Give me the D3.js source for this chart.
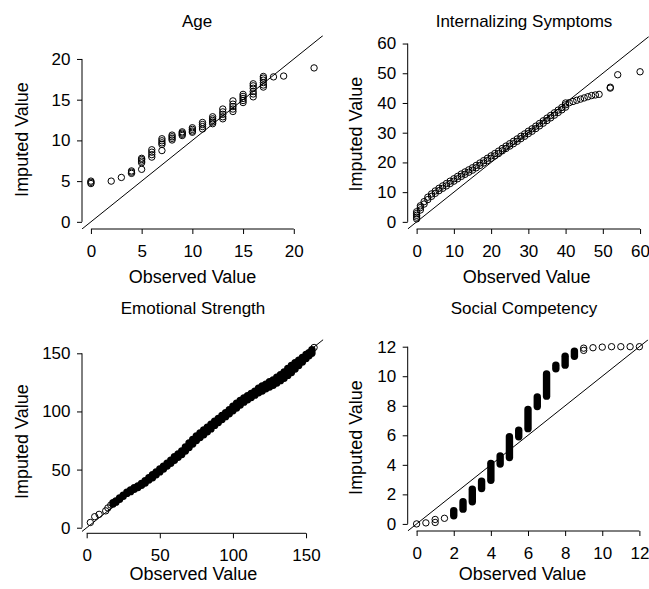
<!DOCTYPE html>
<html>
<head>
  <meta charset="UTF-8">
  <style>
    body { margin: 0; background: #fff; }
    svg { display: block; font-family: "Liberation Sans", Arial, Helvetica, sans-serif; }
  </style>
</head>
<body>
<svg></svg>
<script src="https://d3js.org/d3.v7.min.js"></script>
<script>

let width = 649, height = 589;

// Age: observed value -> imputed values stacked on it
let ageObs = [0, 2, 3, 4, 5, 6, 7, 8, 9, 10, 11, 12, 13, 14, 15, 16, 17, 18, 19, 22];
let ageImp = [
  [4.7, 4.85, 5.0], [5.0], [5.45], [5.95, 6.1, 6.25],
  [6.45, 7.25, 7.45, 7.65, 7.8], [7.95, 8.25, 8.55, 8.85],
  [8.75, 9.5, 9.7, 9.95, 10.2], [10.05, 10.25, 10.45, 10.65],
  [10.6, 10.75, 10.9, 11.05], [11.0, 11.15, 11.35, 11.55],
  [11.4, 11.7, 11.95, 12.2], [12.05, 12.25, 12.45, 12.65, 12.9],
  [12.65, 12.9, 13.2, 13.5, 13.85], [13.55, 13.85, 14.15, 14.45, 14.85],
  [14.65, 14.9, 15.15, 15.4, 15.65], [15.35, 15.7, 16.0, 16.4, 16.7, 16.95],
  [16.55, 16.8, 17.1, 17.4, 17.65, 17.85], [17.8], [17.9], [18.9]
];

// Internalizing Symptoms
let intObs = [0, 1, 2, 3, 4, 5, 6, 7, 8, 9, 10, 11, 12, 13, 14, 15, 16, 17, 18, 19,
  20, 21, 22, 23, 24, 25, 26, 27, 28, 29, 30, 31, 32, 33, 34, 35, 36, 37, 38, 39,
  40, 41, 42, 43, 44, 45, 46, 47, 48, 49, 52, 54, 60];
let intImp = [
  [1.0, 1.6, 2.2, 2.8, 3.4], [4.0, 4.8, 5.4], [6.0, 6.8], [7.5, 8.3], [8.6, 9.4],
  [9.6, 10.4], [10.5, 11.3], [11.3, 12.1], [12.1, 12.9], [12.9, 13.7], [13.7, 14.5],
  [14.5, 15.3], [15.3, 16.1], [16.0, 16.8], [16.7, 17.5], [17.4, 18.2], [18.2, 19.0],
  [19.0, 19.8], [19.8, 20.6], [20.6, 21.4], [21.4, 22.2], [22.2, 23.0], [23.0, 23.8],
  [23.9, 24.7], [24.7, 25.5], [25.5, 26.3], [26.3, 27.1], [27.1, 27.9], [28.0, 28.8],
  [28.8, 29.6], [29.7, 30.5], [30.5, 31.3], [31.4, 32.2], [32.3, 33.1], [33.2, 34.0],
  [34.1, 34.9], [35.0, 35.8], [35.9, 36.7], [36.8, 37.6], [37.7, 38.5],
  [38.6, 39.4, 40.0], [40.1], [40.5], [40.9], [41.3], [41.7], [42.1],
  [42.5], [42.7], [42.9], [45.0, 45.3], [49.5], [50.5]
];

// Emotional Strength: lowest and highest imputed value at each observed value
let emoObs = [2.5, 5.5, 8.5, 13, 14.5, 16.5, 18, 20, 22.5, 25, 27.5, 30, 32.5, 35, 37.5,
  40, 42.5, 45, 47.5, 50, 52.5, 55, 57.5, 60, 62.5, 65, 67.5, 70, 72.5, 75, 77.5, 80,
  82.5, 85, 87.5, 90, 92.5, 95, 97.5, 100, 102.5, 105, 107.5, 110, 112.5, 115, 117.5,
  120, 122.5, 125, 127.5, 130, 132.5, 135, 137.5, 140, 142.5, 145, 147.5, 150, 152, 154, 155.5];
let emoLo = [4.5, 9.5, 11.5, 14.5, 17, 19.5, 20.5, 22, 24.5, 27, 29.5, 31, 33, 34.5, 36.5,
  38.5, 41, 43, 45.5, 48, 50.5, 53, 55.5, 58, 60.5, 63, 66, 69, 72, 75, 77.5, 80,
  82.5, 85, 88, 90.5, 93, 95.5, 98, 100.5, 103, 105.5, 108, 110, 112, 114, 116,
  117.5, 119.5, 121, 122.5, 124.5, 126.5, 128.5, 131, 133.5, 136.5, 139.5, 142.5, 145.5, 148, 150, 155];
let emoHi = [4.5, 9.5, 11.5, 14.5, 17, 19.5, 21.5, 23, 25.5, 28, 30.5, 32.5, 34.5, 36, 38,
  40.5, 43, 45.5, 48, 50.5, 53, 55.5, 58, 61, 63.5, 66, 69.5, 73, 76, 79, 81.5, 84,
  86.5, 89, 91.5, 94, 96.5, 99, 101.5, 104.5, 107, 109.5, 111.5, 113.5, 115.5, 117.5, 120,
  122, 123.5, 125.5, 127, 129.5, 131.5, 134, 137, 139.5, 142, 144, 146.5, 149, 150.5, 153, 155];

// Social Competency
let socObs = [0, 0.5, 1, 1.5, 2, 2.5, 3, 3.5, 4, 4.5, 5, 5.5, 6, 6.5, 7, 7.5, 8, 8.5, 9,
  9.5, 10, 10.5, 11, 11.5, 12];
let socLo = [0, 0.07, 0.1, 0.38, 0.55, 1.0, 1.5, 2.4, 2.95, 4.05, 4.5, 5.9, 6.45, 7.95,
  8.65, 10.5, 10.75, 11.35, 11.75, 11.93, 11.97, 12.0, 12.0, 12.0, 12.0];
let socHi = [0, 0.07, 0.3, 0.38, 0.9, 1.5, 2.35, 2.9, 4.1, 4.6, 5.9, 6.35, 7.75, 8.6,
  10.15, 10.75, 11.35, 11.7, 11.9, 11.93, 11.97, 12.0, 12.0, 12.0, 12.0];

let nested = (obs, imp) => obs.flatMap((o, i) => imp[i].map(v => [o, v]));
let ranged = (obs, lo, hi) => obs.map((o, i) => [o, lo[i], hi[i]]);

let panels = [
  { title: "Age", box: [82, 323, 35.5, 229], xlim: [-0.88, 22.88], ylim: [-0.88, 22.88],
    xticks: [0, 5, 10, 15, 20], yticks: [0, 5, 10, 15, 20],
    titlePos: [197, 26.5], xlabPos: [192.5, 283], ylabPos: [28.3, 139.5],
    points: nested(ageObs, ageImp), stacks: [], minBar: 0 },
  { title: "Internalizing Symptoms", box: [407.7, 649, 36.4, 229], xlim: [-2.4, 62.4], ylim: [-2.4, 62.4],
    xticks: d3.range(0, 61, 10), yticks: d3.range(0, 61, 10),
    titlePos: [524, 26.5], xlabPos: [526.7, 283], ylabPos: [361.7, 134.2],
    points: nested(intObs, intImp), stacks: [], minBar: 0 },
  { title: "Emotional Strength", box: [82, 323.3, 338.3, 533.3], xlim: [-3.2, 161.8], ylim: [-4.8, 162.9],
    xticks: [0, 50, 100, 150], yticks: [0, 50, 100, 150],
    titlePos: [193, 314], xlabPos: [193.3, 580], ylabPos: [28.3, 441.7],
    points: [], stacks: ranged(emoObs, emoLo, emoHi), minBar: 0 },
  { title: "Social Competency", box: [407.7, 648.3, 339.6, 531], xlim: [-0.48, 12.48], ylim: [-0.48, 12.48],
    xticks: d3.range(0, 13, 2), yticks: d3.range(0, 13, 2),
    titlePos: [524, 314], xlabPos: [522.5, 580], ylabPos: [361.7, 437.5],
    points: [], stacks: ranged(socObs, socLo, socHi), minBar: 3.5 }
];

let r = 3.2;

let svg = d3.select("svg")
    .attr("width", width)
    .attr("height", height);

svg.append("rect").attr("width", width).attr("height", height).attr("fill", "#fff");

panels.forEach((p, k) => {
    let [l, rt, t, b] = p.box;
    let x = d3.scaleLinear().domain(p.xlim).range([l, rt]);
    let y = d3.scaleLinear().domain(p.ylim).range([b, t]);

    svg.append("clipPath").attr("id", "clip" + k)
      .append("rect").attr("x", l).attr("y", t).attr("width", rt - l).attr("height", b - t);

    let g = svg.append("g").attr("clip-path", "url(#clip" + k + ")");

    // a stack of imputed values reads as one solid rounded column,
    // a very short one as its end circles
    let tall = d => d[2] > d[1] && y(d[1]) - y(d[2]) > p.minBar;

    g.selectAll("line.stack")
      .data(p.stacks.filter(tall))
      .enter().append("line")
      .attr("class", "stack")
      .attr("x1", d => x(d[0])).attr("x2", d => x(d[0]))
      .attr("y1", d => y(d[1])).attr("y2", d => y(d[2]))
      .attr("stroke", "#000")
      .attr("stroke-width", 2 * r + 1)
      .attr("stroke-linecap", "round");

    let pts = p.points.concat(p.stacks.flatMap(d => tall(d) ? [] :
        (d[2] > d[1] ? [[d[0], d[1]], [d[0], d[2]]] : [[d[0], d[1]]])));
    g.selectAll("circle")
      .data(pts)
      .enter().append("circle")
      .attr("cx", d => x(d[0]))
      .attr("cy", d => y(d[1]))
      .attr("r", r)
      .attr("fill", "none")
      .attr("stroke", "#000")
      .attr("stroke-width", 1);

    // identity line
    g.append("line")
      .attr("x1", x(p.xlim[0])).attr("y1", y(p.xlim[0]))
      .attr("x2", x(p.xlim[1])).attr("y2", y(p.xlim[1]))
      .attr("stroke", "#000").attr("stroke-width", 1);

    // axes, R style: line only between first and last tick
    let xa = svg.append("g").attr("transform", "translate(0," + b + ")")
      .call(d3.axisBottom(x).tickValues(p.xticks).tickSize(5).tickSizeOuter(0).tickPadding(11));
    let ya = svg.append("g").attr("transform", "translate(" + l + ",0)")
      .call(d3.axisLeft(y).tickValues(p.yticks).tickSize(5).tickSizeOuter(0).tickPadding(6.5));
    [xa, ya].forEach(a => {
        a.select(".domain").remove();
        a.selectAll("text").attr("font-size", 17).attr("font-family", null).attr("fill", "#000");
        a.selectAll("line").attr("stroke", "#000");
    });
    xa.append("line")
      .attr("x1", x(p.xticks[0])).attr("x2", x(p.xticks[p.xticks.length - 1]))
      .attr("stroke", "#000");
    ya.append("line")
      .attr("y1", y(p.yticks[0])).attr("y2", y(p.yticks[p.yticks.length - 1]))
      .attr("stroke", "#000");

    svg.append("text")
      .attr("x", p.titlePos[0]).attr("y", p.titlePos[1])
      .attr("text-anchor", "middle").attr("font-size", 17)
      .text(p.title);

    svg.append("text")
      .attr("x", p.xlabPos[0]).attr("y", p.xlabPos[1])
      .attr("text-anchor", "middle").attr("font-size", 18)
      .text("Observed Value");

    svg.append("text")
      .attr("transform", "translate(" + p.ylabPos[0] + "," + p.ylabPos[1] + ") rotate(-90)")
      .attr("text-anchor", "middle").attr("font-size", 18)
      .text("Imputed Value");
});

</script>
</body>
</html>
